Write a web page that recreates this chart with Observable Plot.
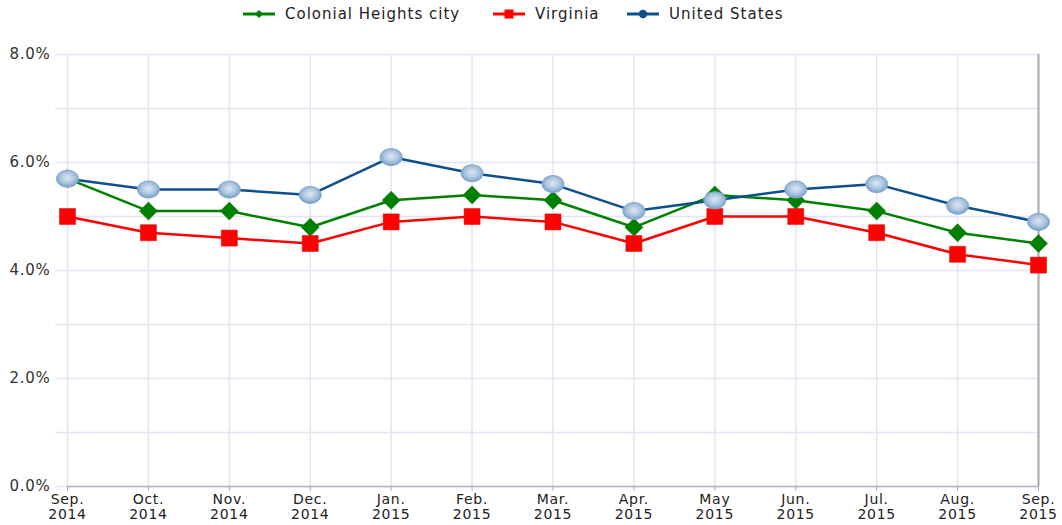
<!DOCTYPE html>
<html>
<head>
<meta charset="utf-8">
<script src="https://cdn.jsdelivr.net/npm/d3@7"></script>
<script src="https://cdn.jsdelivr.net/npm/@observablehq/plot@0.6"></script>
<style>
  html, body { margin: 0; padding: 0; background: #fff; }
  body { width: 1062px; height: 525px; overflow: hidden; font-family: "DejaVu Sans", Verdana, sans-serif; }
  #legend { height: 30px; position: relative; font-size: 15px; letter-spacing: 1px; color: #222; }
  .item { position: absolute; top: 5px; display: flex; align-items: center; white-space: nowrap; }
  .item svg { margin-right: 10px; }
  #chart svg { display: block; }
</style>
</head>
<body>
<div id="legend"></div>
<div id="chart"></div>
<script>
// ---- Data ----
const months = ["Sep.\n2014","Oct.\n2014","Nov.\n2014","Dec.\n2014","Jan.\n2015","Feb.\n2015","Mar.\n2015","Apr.\n2015","May\n2015","Jun.\n2015","Jul.\n2015","Aug.\n2015","Sep.\n2015"];
const seriesNames = ["Colonial Heights city", "Virginia", "United States"];
const colonialHeights = [5.7, 5.1, 5.1, 4.8, 5.3, 5.4, 5.3, 4.8, 5.4, 5.3, 5.1, 4.7, 4.5];
const virginia        = [5.0, 4.7, 4.6, 4.5, 4.9, 5.0, 4.9, 4.5, 5.0, 5.0, 4.7, 4.3, 4.1];
const unitedStates    = [5.7, 5.5, 5.5, 5.4, 6.1, 5.8, 5.6, 5.1, 5.3, 5.5, 5.6, 5.2, 4.9];
const yTicksLabeled = [0, 2, 4, 6, 8];
const yTicksGrid = [0, 1, 2, 3, 4, 5, 6, 7, 8];

const colors = {"Colonial Heights city": "#008000", "Virginia": "#ff0000", "United States": "#0d4f8b"};

const rows = [];
[colonialHeights, virginia, unitedStates].forEach((vals, si) => {
  vals.forEach((v, i) => rows.push({series: seriesNames[si], month: months[i], value: v}));
});

// custom symbols (pixel units)
const squareSym = {draw(c) { c.moveTo(-8,-8); c.lineTo(8,-8); c.lineTo(8,8); c.lineTo(-8,8); c.closePath(); }};
const diamondSym = {draw(c) { c.moveTo(0,-9); c.lineTo(9,0); c.lineTo(0,9); c.lineTo(-9,0); c.closePath(); }};
const ellipseSym = {draw(c) {
  const rx = 11, ry = 8.5, k = 0.5523;
  c.moveTo(rx, 0);
  c.bezierCurveTo(rx, ry*k, rx*k, ry, 0, ry);
  c.bezierCurveTo(-rx*k, ry, -rx, ry*k, -rx, 0);
  c.bezierCurveTo(-rx, -ry*k, -rx*k, -ry, 0, -ry);
  c.bezierCurveTo(rx*k, -ry, rx, -ry*k, rx, 0);
  c.closePath();
}};

const gridColor = "#e4e4f4";

const chart = Plot.plot({
  width: 1062,
  height: 495,
  marginTop: 24,
  marginBottom: 39,
  marginLeft: 67,
  marginRight: 24,
  style: {fontFamily: "'DejaVu Sans', Verdana, sans-serif", fontSize: "15px", letterSpacing: "0.7px", color: "#333", background: "#fff"},
  x: {type: "point", domain: months, padding: 0, round: false},
  y: {domain: [0, 8]},
  marks: [
    Plot.gridX(months, {stroke: gridColor, strokeOpacity: 1, strokeWidth: 1.5}),
    Plot.gridY(yTicksGrid, {stroke: gridColor, strokeOpacity: 1, strokeWidth: 1.5}),
    Plot.axisY(yTicksGrid, {tickSize: 12, tickFormat: () => "", stroke: gridColor, strokeWidth: 1.5, label: null}),
    Plot.axisY(yTicksLabeled, {tickSize: 0, tickPadding: 17, tickFormat: d => d.toFixed(1) + "%", fill: "#333", fontSize: 15, label: null}),
    Plot.axisX(months, {tickSize: 5, stroke: "#aaaab4", tickPadding: 1, fill: "#222", fontSize: 14, letterSpacing: "1px", label: null, lineHeight: 1.12}),
    Plot.ruleY([0], {stroke: "#b4b4c0", strokeWidth: 1.5}),
    Plot.ruleX([months[months.length - 1]], {y1: 0, y2: 8, stroke: "#a8a8b0", strokeWidth: 2}),
    Plot.line(rows.filter(d => d.series === seriesNames[0]), {x: "month", y: "value", stroke: colors[seriesNames[0]], strokeWidth: 2.5}),
    Plot.line(rows.filter(d => d.series === seriesNames[1]), {x: "month", y: "value", stroke: colors[seriesNames[1]], strokeWidth: 2.5}),
    Plot.line(rows.filter(d => d.series === seriesNames[2]), {x: "month", y: "value", stroke: colors[seriesNames[2]], strokeWidth: 2.5}),
    Plot.dot(rows.filter(d => d.series === seriesNames[0]), {x: "month", y: "value", symbol: diamondSym, r: 5, fill: "#008000", stroke: "#006800", strokeWidth: 0.5}),
    Plot.dot(rows.filter(d => d.series === seriesNames[1]), {x: "month", y: "value", symbol: squareSym, r: 5, fill: "#ff0000", stroke: "#e00000", strokeWidth: 0.5}),
    Plot.dot(rows.filter(d => d.series === seriesNames[2]), {x: "month", y: "value", symbol: ellipseSym, r: 5, fill: "url(#usGrad)", stroke: "#86a9cb", strokeWidth: 1})
  ]
});

// gradient defs for US markers
const ns = "http://www.w3.org/2000/svg";
const defs = document.createElementNS(ns, "defs");
defs.innerHTML = `<radialGradient id="usGrad" cx="50%" cy="45%" r="60%">
  <stop offset="0%" stop-color="#dce8f3"/>
  <stop offset="55%" stop-color="#a9c4df"/>
  <stop offset="100%" stop-color="#6a95c2"/>
</radialGradient>`;
chart.insertBefore(defs, chart.firstChild);
document.getElementById("chart").appendChild(chart);

// legend
const legend = document.getElementById("legend");
const lefts = [243, 493, 627];
const swatchMarks = [
  '<path d="M16,4 L20,8 L16,12 L12,8 Z" fill="#008000"/>',
  '<rect x="11.5" y="3.5" width="9" height="9" fill="#ff0000"/>',
  '<circle cx="16" cy="8" r="4.2" fill="#0d4f8b"/>'
];
seriesNames.forEach((name, i) => {
  const div = document.createElement("div");
  div.className = "item";
  div.style.left = lefts[i] + "px";
  div.innerHTML = `<svg width="32" height="16"><line x1="0" y1="8" x2="32" y2="8" stroke="${colors[name]}" stroke-width="3"/>${swatchMarks[i]}</svg><span>${name}</span>`;
  legend.appendChild(div);
});
</script>
</body>
</html>
